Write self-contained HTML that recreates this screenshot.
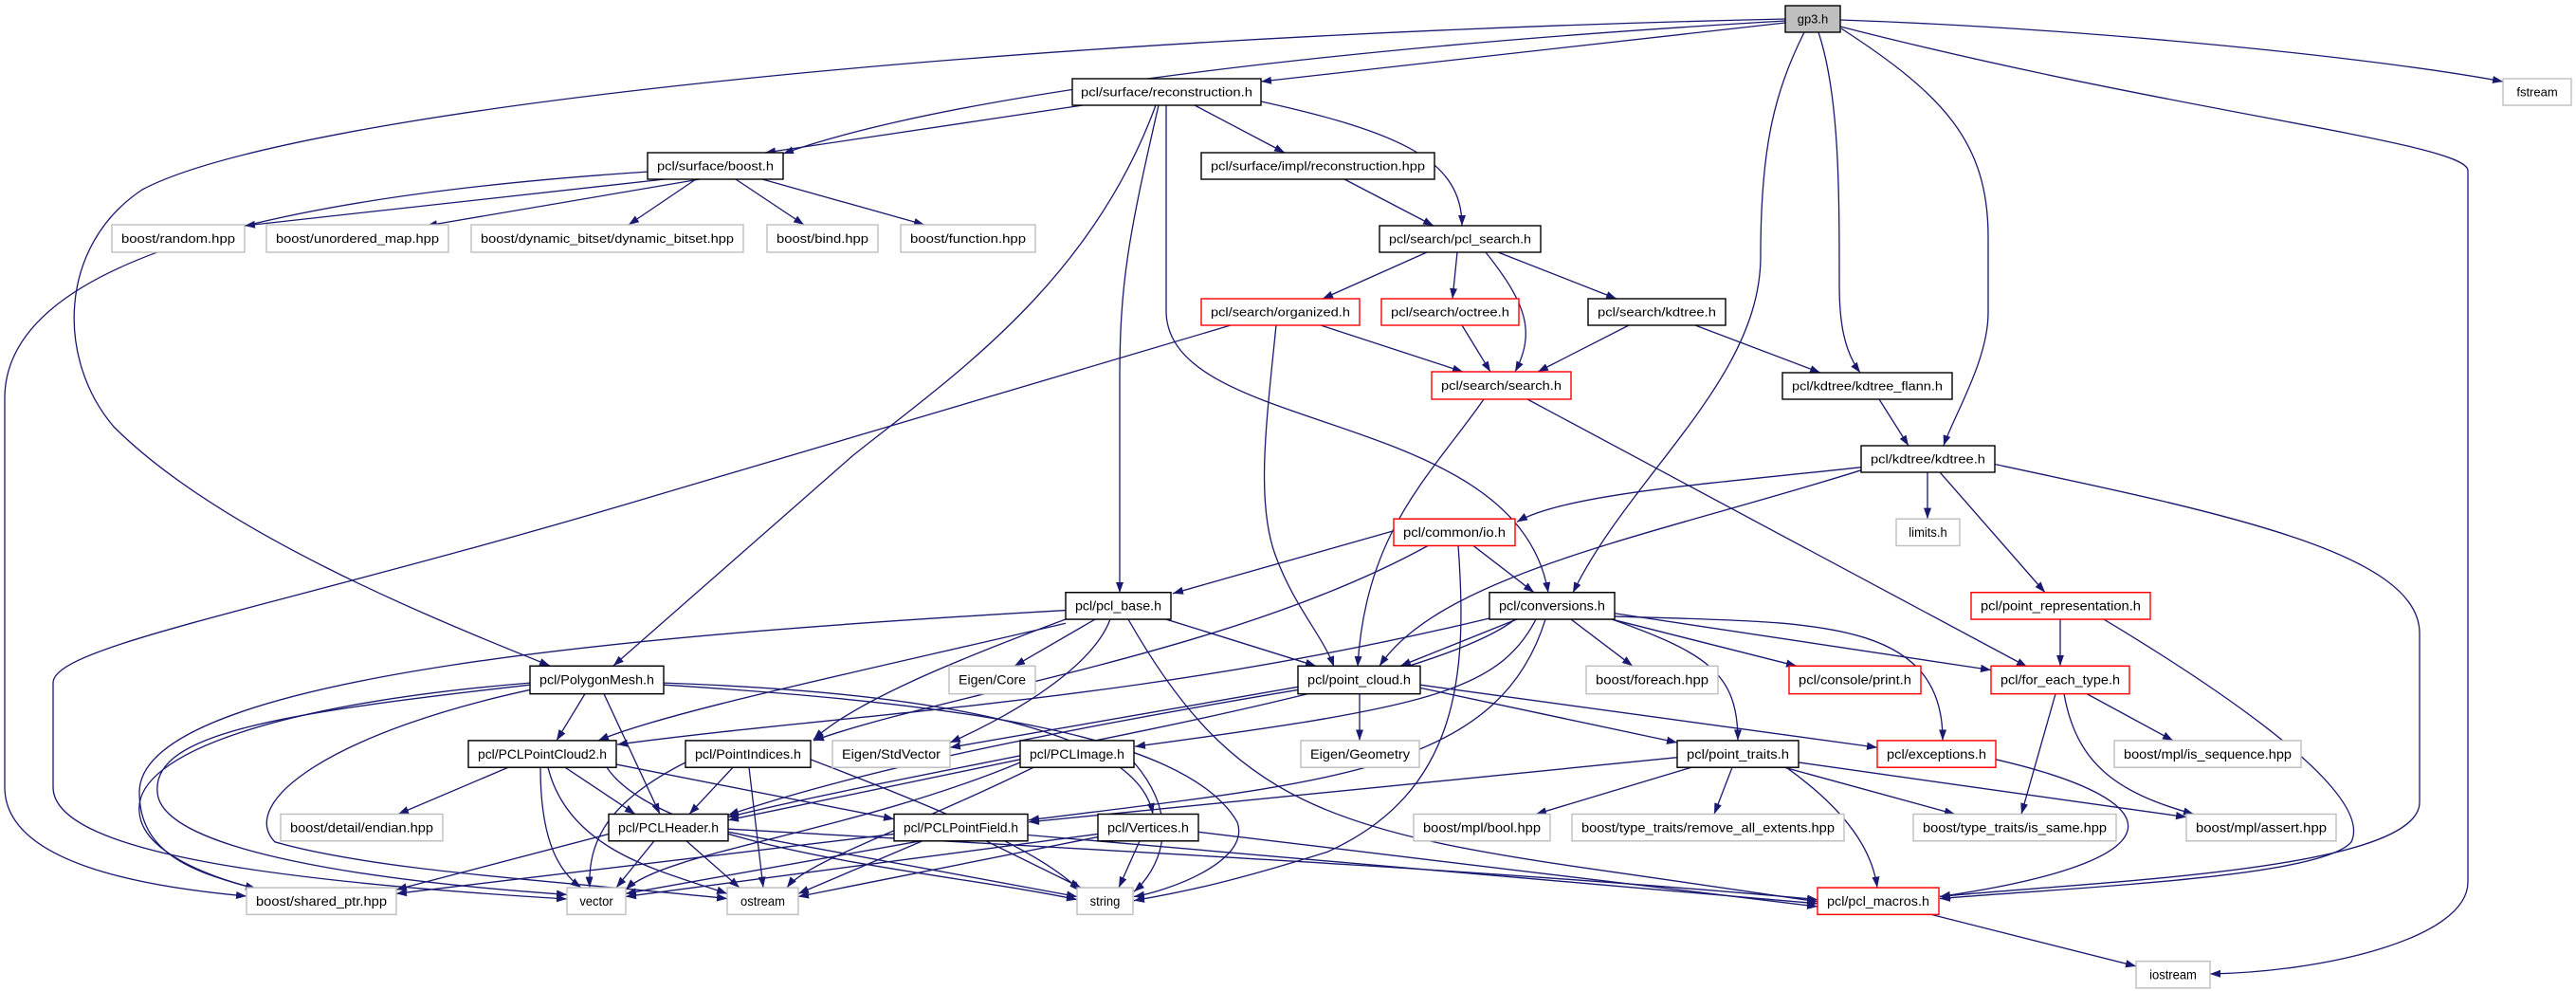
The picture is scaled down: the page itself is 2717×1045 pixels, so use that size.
<!DOCTYPE html>
<html><head><meta charset="utf-8"><style>
html,body{margin:0;padding:0;background:#fff;}
svg{display:block;}
text{font-family:"Liberation Sans",sans-serif;font-size:13px;fill:#000;}
.e{fill:none;stroke:#191970;stroke-width:1.3;marker-end:url(#a);}
.b{fill:#fff;stroke:#000;stroke-width:1.4;}
.g{fill:#fff;stroke:#bfbfbf;stroke-width:1.4;}
.r{fill:#fff;stroke:#ff0000;stroke-width:1.4;}
.t{fill:#bfbfbf;stroke:#000;stroke-width:1.4;}
</style></head><body>
<svg width="2717" height="1045" viewBox="0 0 2717 1045" xmlns="http://www.w3.org/2000/svg">
<defs><marker id="a" markerUnits="userSpaceOnUse" markerWidth="11" markerHeight="8" refX="11" refY="4" orient="auto"><path d="M0,0 L11,4 L0,8 z" fill="#191970"/></marker></defs>
<!-- upper / crossing edges (identity coords) -->
<g>
<path class="e" d="M1883,24 L1330,86"/>
<path class="e" d="M1883,22 C1400,50 1000,100 826,162"/>
<path class="e" d="M1142,111 L807,161"/>
<path class="e" d="M1883,20 C1000,40 300,120 150,200 C60,260 60,380 120,450 C230,560 450,650 580,702"/>
<path class="e" d="M1219,111 C1150,300 1000,400 900,480 L647,702"/>
<path class="e" d="M1222,111 C1190,250 1181,300 1181,400 L1181,625"/>
<path class="e" d="M1230,111 L1230,330 C1235,460 1600,430 1633,625"/>
<path class="e" d="M1260,111 L1355,161"/>
<path class="e" d="M1330,107 C1480,140 1542,170 1542,238"/>
<path class="e" d="M1418,189 L1512,238"/>
<path class="e" d="M1505,266 L1395,315"/>
<path class="e" d="M1537,266 L1532,315"/>
<path class="e" d="M1567,266 C1610,320 1620,350 1598,392"/>
<path class="e" d="M1580,266 L1705,315"/>
<path class="e" d="M1393,343 L1543,392"/>
<path class="e" d="M1346,343 C1335,450 1325,530 1345,585 C1365,640 1395,670 1407,703"/>
<path class="e" d="M1298,343 L700,520 C300,640 56,680 56,720 L56,830 C56,900 300,930 598,948"/>
<path class="e" d="M1542,343 L1572,392"/>
<path class="e" d="M1718,343 L1622,392"/>
<path class="e" d="M1788,343 L1920,393"/>
<path class="e" d="M1918,34 C1940,100 1940,200 1940,300 C1940,340 1945,370 1962,393"/>
<path class="e" d="M1942,30 C2050,100 2097,150 2097,250 L2097,330 C2097,380 2060,440 2050,470"/>
<path class="e" d="M1903,34 C1870,100 1857,160 1857,270 C1857,400 1720,500 1659,625"/>
<path class="e" d="M1941,21 C2200,30 2500,60 2640,86"/>
<path class="e" d="M1941,28 C2300,120 2603,150 2603,180 L2603,930 C2603,990 2450,1025 2331,1027"/>
<path class="e" d="M1982,421 L2013,470"/>
<path class="e" d="M1565,421 C1510,500 1440,560 1432,703"/>
<path class="e" d="M1611,421 L2138,703"/>
<path class="e" d="M754,177 C500,190 5,230 5,420 L5,830 C5,910 150,935 260,945"/>
<path class="e" d="M719,187 L258,238"/>
<path class="e" d="M738,189 L450,238"/>
<path class="e" d="M734,189 L663,237"/>
<path class="e" d="M776,189 L848,237"/>
<path class="e" d="M804,189 L975,237"/>
</g>
<!-- lower edges: transformed -->
<g transform="translate(0,-24.1) scale(1,1.0482)">
<path class="e" d="M1963,493 C1800,510 1650,520 1600,548"/>
<path class="e" d="M1963,496 C1750,560 1520,600 1455,693"/>
<path class="e" d="M2033,498 L2033,545"/>
<path class="e" d="M2046,498 L2157,619"/>
<path class="e" d="M2104,490 C2350,540 2552,580 2552,660 L2552,830 C2552,900 2200,910 2046,925"/>
<path class="e" d="M1470,557 L1237,620"/>
<path class="e" d="M1554,572 L1618,619"/>
<path class="e" d="M1538,572 C1548,700 1540,820 1400,880 C1300,910 1250,920 1196,929"/>
<path class="e" d="M1506,572 C1300,680 1000,720 858,768"/>
<path class="e" d="M1230,646 L1388,693"/>
<path class="e" d="M1155,646 L1070,693"/>
<path class="e" d="M1124,646 C1000,690 900,730 858,767"/>
<path class="e" d="M1124,637 C700,660 147,700 147,820 C147,880 200,900 270,917"/>
<path class="e" d="M1124,650 C900,700 700,740 631,768"/>
<path class="e" d="M1171,646 C1150,700 1050,750 1002,770"/>
<path class="e" d="M1190,646 C1300,830 1400,860 1700,900 L1917,930"/>
<path class="e" d="M700,712 C1000,730 1250,760 1305,850 C1320,890 1230,920 1196,925"/>
<path class="e" d="M700,710 C1000,720 1200,760 1216,842"/>
<path class="e" d="M1600,646 L1477,693"/>
<path class="e" d="M1657,646 L1722,693"/>
<path class="e" d="M1700,646 L1895,693"/>
<path class="e" d="M1703,640 L2100,697"/>
<path class="e" d="M1703,643 C1900,650 2050,640 2049,768"/>
<path class="e" d="M1700,646 C1800,680 1833,700 1833,768"/>
<path class="e" d="M1620,646 C1580,720 1500,735 1197,774"/>
<path class="e" d="M1571,645 C1200,730 900,740 651,772"/>
<path class="e" d="M1630,646 C1580,800 1400,810 1085,848"/>
<path class="e" d="M1598,646 C1500,720 1000,790 768,845"/>
<path class="e" d="M1434,721 L1434,768"/>
<path class="e" d="M1498,715 L1769,770"/>
<path class="e" d="M1498,712 L1980,775"/>
<path class="e" d="M1369,714 L1002,775"/>
<path class="e" d="M1369,717 C1100,760 900,800 768,843"/>
<path class="e" d="M2173,646 L2173,693"/>
<path class="e" d="M2219,646 C2400,750 2500,830 2480,870 C2450,905 2200,915 2046,927"/>
<path class="e" d="M2201,721 L2292,768"/>
<path class="e" d="M2168,721 L2132,842"/>
<path class="e" d="M2177,721 C2190,790 2230,820 2314,842"/>
<path class="e" d="M1784,795 L1620,842"/>
<path class="e" d="M1827,795 L1808,842"/>
<path class="e" d="M1882,795 L2062,842"/>
<path class="e" d="M1897,790 L2306,845"/>
<path class="e" d="M1884,795 C1950,840 1975,880 1980,916"/>
<path class="e" d="M1769,785 L1085,850"/>
<path class="e" d="M2105,787 C2300,830 2300,890 2046,925"/>
<path class="e" d="M2037,943 L2253,995"/>
<path class="e" d="M617,721 L587,768"/>
<path class="e" d="M637,721 L696,842"/>
<path class="e" d="M559,712 C300,740 160,760 166,820 C170,880 400,910 598,923"/>
<path class="e" d="M559,717 C350,760 250,830 290,870 C400,900 600,910 767,927"/>
<path class="e" d="M559,710 C300,730 140,780 147,840 C150,880 220,905 270,917"/>
<path class="e" d="M536,795 L420,842"/>
<path class="e" d="M596,795 L670,842"/>
<path class="e" d="M650,792 L943,847"/>
<path class="e" d="M570,795 C570,870 590,900 613,916"/>
<path class="e" d="M578,795 C600,880 700,900 767,922"/>
<path class="e" d="M640,795 C700,880 1000,900 1136,928"/>
<path class="e" d="M773,795 L727,842"/>
<path class="e" d="M723,790 C640,830 620,870 622,916"/>
<path class="e" d="M790,795 L805,916"/>
<path class="e" d="M855,787 C1000,840 1100,880 1140,920"/>
<path class="e" d="M1076,787 L768,848"/>
<path class="e" d="M1076,790 C900,860 700,880 660,918"/>
<path class="e" d="M1090,795 C950,860 850,890 830,916"/>
<path class="e" d="M1196,790 C1250,850 1220,900 1196,920"/>
<path class="e" d="M642,862 L418,918"/>
<path class="e" d="M690,869 L650,916"/>
<path class="e" d="M724,869 L780,916"/>
<path class="e" d="M768,860 L1136,925"/>
<path class="e" d="M768,857 C1200,880 1600,900 1917,928"/>
<path class="e" d="M943,862 L418,922"/>
<path class="e" d="M971,869 L660,922"/>
<path class="e" d="M973,869 L842,922"/>
<path class="e" d="M1040,869 L1140,916"/>
<path class="e" d="M1084,863 L1917,932"/>
<path class="e" d="M1158,862 L660,925"/>
<path class="e" d="M1158,865 L842,925"/>
<path class="e" d="M1202,869 L1180,916"/>
<path class="e" d="M1264,860 L1917,935"/>
</g>
<!-- upper nodes -->
<g>
<rect class="t" x="1883" y="6" width="58" height="28"/><text x="1912" y="24.5" text-anchor="middle">gp3.h</text>
<rect class="b" x="1131" y="83" width="199" height="28"/><text x="1230.5" y="101.5" text-anchor="middle" textLength="181" lengthAdjust="spacingAndGlyphs">pcl/surface/reconstruction.h</text>
<rect class="g" x="2640" y="83" width="72" height="28"/><text x="2676" y="101.5" text-anchor="middle">fstream</text>
<rect class="b" x="683" y="161" width="143" height="28"/><text x="754.5" y="179.5" text-anchor="middle" textLength="123" lengthAdjust="spacingAndGlyphs">pcl/surface/boost.h</text>
<rect class="b" x="1267" y="161" width="246" height="28"/><text x="1390" y="179.5" text-anchor="middle" textLength="226" lengthAdjust="spacingAndGlyphs">pcl/surface/impl/reconstruction.hpp</text>
<rect class="g" x="118" y="237" width="140" height="29"/><text x="188" y="256" text-anchor="middle" textLength="120" lengthAdjust="spacingAndGlyphs">boost/random.hpp</text>
<rect class="g" x="281" y="237" width="192" height="29"/><text x="377" y="256" text-anchor="middle" textLength="172" lengthAdjust="spacingAndGlyphs">boost/unordered_map.hpp</text>
<rect class="g" x="497" y="237" width="287" height="29"/><text x="640.5" y="256" text-anchor="middle" textLength="267" lengthAdjust="spacingAndGlyphs">boost/dynamic_bitset/dynamic_bitset.hpp</text>
<rect class="g" x="809" y="237" width="117" height="29"/><text x="867.5" y="256" text-anchor="middle" textLength="97" lengthAdjust="spacingAndGlyphs">boost/bind.hpp</text>
<rect class="g" x="950" y="237" width="142" height="29"/><text x="1021" y="256" text-anchor="middle" textLength="122" lengthAdjust="spacingAndGlyphs">boost/function.hpp</text>
<rect class="b" x="1455" y="238" width="170" height="28"/><text x="1540" y="256.5" text-anchor="middle" textLength="150" lengthAdjust="spacingAndGlyphs">pcl/search/pcl_search.h</text>
<rect class="r" x="1267" y="315" width="167" height="28"/><text x="1350.5" y="333.5" text-anchor="middle" textLength="147" lengthAdjust="spacingAndGlyphs">pcl/search/organized.h</text>
<rect class="r" x="1457" y="315" width="145" height="28"/><text x="1529.5" y="333.5" text-anchor="middle" textLength="125" lengthAdjust="spacingAndGlyphs">pcl/search/octree.h</text>
<rect class="b" x="1675" y="315" width="145" height="28"/><text x="1747.5" y="333.5" text-anchor="middle" textLength="125" lengthAdjust="spacingAndGlyphs">pcl/search/kdtree.h</text>
<rect class="r" x="1510" y="392" width="147" height="29"/><text x="1583.5" y="411" text-anchor="middle" textLength="127" lengthAdjust="spacingAndGlyphs">pcl/search/search.h</text>
<rect class="b" x="1880" y="393" width="179" height="28"/><text x="1969.5" y="411.5" text-anchor="middle" textLength="159" lengthAdjust="spacingAndGlyphs">pcl/kdtree/kdtree_flann.h</text>
<rect class="b" x="1963" y="470" width="141" height="28"/><text x="2033.5" y="488.5" text-anchor="middle" textLength="121" lengthAdjust="spacingAndGlyphs">pcl/kdtree/kdtree.h</text>
</g>
<!-- lower nodes: transformed -->
<g transform="translate(0,-24.1) scale(1,1.0482)">
<rect class="r" x="1470" y="545" width="128" height="27"/><text x="1534" y="563" text-anchor="middle" textLength="108" lengthAdjust="spacingAndGlyphs">pcl/common/io.h</text>
<rect class="g" x="2000" y="545" width="67" height="27"/><text x="2033.5" y="563" text-anchor="middle">limits.h</text>
<rect class="b" x="1124" y="619" width="111" height="27"/><text x="1179.5" y="637" text-anchor="middle" textLength="91" lengthAdjust="spacingAndGlyphs">pcl/pcl_base.h</text>
<rect class="b" x="1571" y="619" width="132" height="27"/><text x="1637" y="637" text-anchor="middle" textLength="112" lengthAdjust="spacingAndGlyphs">pcl/conversions.h</text>
<rect class="r" x="2079" y="619" width="189" height="27"/><text x="2173.5" y="637" text-anchor="middle" textLength="169" lengthAdjust="spacingAndGlyphs">pcl/point_representation.h</text>
<rect class="b" x="559" y="693" width="141" height="28"/><text x="629.5" y="711.5" text-anchor="middle" textLength="121" lengthAdjust="spacingAndGlyphs">pcl/PolygonMesh.h</text>
<rect class="g" x="1001" y="693" width="91" height="28"/><text x="1046.5" y="711.5" text-anchor="middle" textLength="71" lengthAdjust="spacingAndGlyphs">Eigen/Core</text>
<rect class="b" x="1369" y="693" width="129" height="28"/><text x="1433.5" y="711.5" text-anchor="middle" textLength="109" lengthAdjust="spacingAndGlyphs">pcl/point_cloud.h</text>
<rect class="g" x="1673" y="693" width="139" height="28"/><text x="1742.5" y="711.5" text-anchor="middle" textLength="119" lengthAdjust="spacingAndGlyphs">boost/foreach.hpp</text>
<rect class="r" x="1887" y="693" width="139" height="28"/><text x="1956.5" y="711.5" text-anchor="middle" textLength="119" lengthAdjust="spacingAndGlyphs">pcl/console/print.h</text>
<rect class="r" x="2100" y="693" width="146" height="28"/><text x="2173" y="711.5" text-anchor="middle" textLength="126" lengthAdjust="spacingAndGlyphs">pcl/for_each_type.h</text>
<rect class="b" x="494" y="768" width="156" height="27"/><text x="572" y="786" text-anchor="middle" textLength="136" lengthAdjust="spacingAndGlyphs">pcl/PCLPointCloud2.h</text>
<rect class="b" x="723" y="768" width="132" height="27"/><text x="789" y="786" text-anchor="middle" textLength="112" lengthAdjust="spacingAndGlyphs">pcl/PointIndices.h</text>
<rect class="g" x="878" y="768" width="124" height="27"/><text x="940" y="786" text-anchor="middle" textLength="104" lengthAdjust="spacingAndGlyphs">Eigen/StdVector</text>
<rect class="b" x="1076" y="768" width="120" height="27"/><text x="1136" y="786" text-anchor="middle" textLength="100" lengthAdjust="spacingAndGlyphs">pcl/PCLImage.h</text>
<rect class="g" x="1372" y="768" width="125" height="27"/><text x="1434.5" y="786" text-anchor="middle" textLength="105" lengthAdjust="spacingAndGlyphs">Eigen/Geometry</text>
<rect class="b" x="1769" y="768" width="128" height="27"/><text x="1833" y="786" text-anchor="middle" textLength="108" lengthAdjust="spacingAndGlyphs">pcl/point_traits.h</text>
<rect class="r" x="1980" y="768" width="125" height="27"/><text x="2042.5" y="786" text-anchor="middle" textLength="105" lengthAdjust="spacingAndGlyphs">pcl/exceptions.h</text>
<rect class="g" x="2230" y="768" width="197" height="27"/><text x="2328.5" y="786" text-anchor="middle" textLength="177" lengthAdjust="spacingAndGlyphs">boost/mpl/is_sequence.hpp</text>
<rect class="g" x="296" y="842" width="171" height="27"/><text x="381.5" y="860" text-anchor="middle" textLength="151" lengthAdjust="spacingAndGlyphs">boost/detail/endian.hpp</text>
<rect class="b" x="642" y="842" width="126" height="27"/><text x="705" y="860" text-anchor="middle" textLength="106" lengthAdjust="spacingAndGlyphs">pcl/PCLHeader.h</text>
<rect class="b" x="943" y="842" width="141" height="27"/><text x="1013.5" y="860" text-anchor="middle" textLength="121" lengthAdjust="spacingAndGlyphs">pcl/PCLPointField.h</text>
<rect class="b" x="1158" y="842" width="106" height="27"/><text x="1211" y="860" text-anchor="middle" textLength="86" lengthAdjust="spacingAndGlyphs">pcl/Vertices.h</text>
<rect class="g" x="1491" y="842" width="144" height="27"/><text x="1563" y="860" text-anchor="middle" textLength="124" lengthAdjust="spacingAndGlyphs">boost/mpl/bool.hpp</text>
<rect class="g" x="1658" y="842" width="287" height="27"/><text x="1801.5" y="860" text-anchor="middle" textLength="267" lengthAdjust="spacingAndGlyphs">boost/type_traits/remove_all_extents.hpp</text>
<rect class="g" x="2018" y="842" width="214" height="27"/><text x="2125" y="860" text-anchor="middle" textLength="194" lengthAdjust="spacingAndGlyphs">boost/type_traits/is_same.hpp</text>
<rect class="g" x="2306" y="842" width="158" height="27"/><text x="2385" y="860" text-anchor="middle" textLength="138" lengthAdjust="spacingAndGlyphs">boost/mpl/assert.hpp</text>
<rect class="g" x="260" y="916" width="158" height="27"/><text x="339" y="934" text-anchor="middle" textLength="138" lengthAdjust="spacingAndGlyphs">boost/shared_ptr.hpp</text>
<rect class="g" x="598" y="916" width="62" height="27"/><text x="629" y="934" text-anchor="middle">vector</text>
<rect class="g" x="767" y="916" width="75" height="27"/><text x="804.5" y="934" text-anchor="middle">ostream</text>
<rect class="g" x="1136" y="916" width="59" height="27"/><text x="1165.5" y="934" text-anchor="middle">string</text>
<rect class="r" x="1917" y="916" width="128" height="27"/><text x="1981" y="934" text-anchor="middle" textLength="108" lengthAdjust="spacingAndGlyphs">pcl/pcl_macros.h</text>
<rect class="g" x="2253" y="990" width="78" height="27"/><text x="2292" y="1008" text-anchor="middle">iostream</text>
</g>
</svg>
</body></html>
